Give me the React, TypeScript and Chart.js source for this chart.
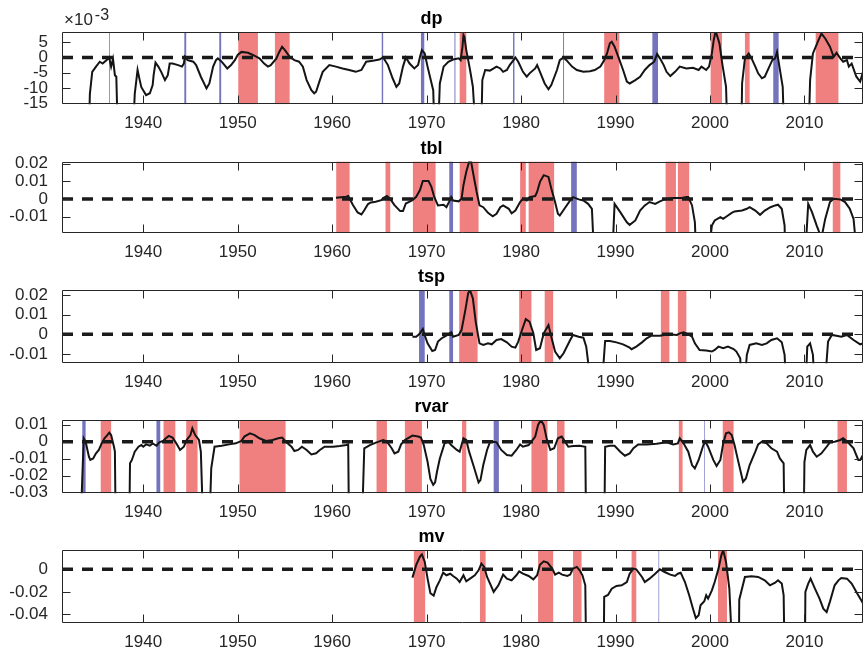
import React, { useEffect, useRef } from "react";
import { Chart, registerables } from "chart.js";

Chart.register(...registerables);

// ---------- shared axis data ----------
const X_MIN = 1931.4;
const X_MAX = 2016.2;
const xTickYears = [1940, 1950, 1960, 1970, 1980, 1990, 2000, 2010];

type Pt = [number, number];
type Band = [number, number];

// ---------- dp (values in units of 1e-3) ----------
const dpSeries: Pt[] = [
  [1934.2, -30], [1934.35, -12], [1934.6, -4.7], [1935.0, -3.0], [1935.4, -1.4], [1935.7, -2], [1936.1, -0.9], [1936.4, 0], [1936.6, -3], [1936.8, -0.5], [1937.0, -5.8], [1937.15, -6.3], [1937.35, -30],
  [1938.85, -30], [1939.1, -12], [1939.4, -4.1], [1939.6, -7], [1939.8, -9.7], [1940.3, -12.3], [1940.7, -11.7], [1941.0, -9], [1941.1, -5.8], [1941.3, -1.7], [1941.6, -3], [1941.9, -4.7], [1942.3, -7.4], [1942.6, -5.8], [1942.8, -2], [1943.1, -2], [1943.7, -2.5], [1944.1, -3], [1944.3, -2], [1944.4, 0.2], [1944.7, -0.9], [1945.3, -1.4], [1945.6, -2.5], [1946.1, -6.3], [1946.7, -10.1], [1947.0, -8.5], [1947.4, -3], [1947.7, -0.9], [1947.9, -0.3], [1948.3, -1.4], [1948.9, -3.6], [1949.3, -2.5], [1949.7, -0.9], [1950.0, 0.8], [1950.4, 1.8], [1951.1, 1.5], [1951.6, 0.8], [1952.3, -0.3], [1952.8, -2], [1953.2, -3], [1953.5, -2.5], [1954.1, -0.3], [1954.4, 1.8], [1954.7, 3.5], [1955.0, 2.4], [1955.5, 0.2], [1956.0, -0.9], [1956.5, -1.4], [1956.9, -3], [1957.3, -7.4], [1957.8, -10.7], [1958.1, -11.7], [1958.3, -11.2], [1958.7, -7.4], [1959.0, -4.7], [1959.7, -2.5], [1960.4, -3], [1961.1, -3.6], [1961.8, -4.1], [1962.5, -4.7], [1963.1, -4.1], [1963.6, -1.4], [1964.3, -1.1], [1965.0, -0.7], [1965.4, 0], [1965.9, -2.5], [1966.4, -6.8], [1966.8, -9.6], [1967.1, -8.5], [1967.5, -3], [1967.8, 0], [1968.2, -2], [1968.7, -3.6], [1969.1, -2.5], [1969.3, 0.2], [1969.5, 2.4], [1969.8, 1.3], [1970.1, -3], [1970.7, -10.7], [1970.9, -30],
  [1971.15, -30], [1971.4, -8.5], [1971.8, -3], [1972.3, -1.4], [1972.8, -0.7], [1973.4, -0.3], [1973.6, -0.9], [1973.8, 3.5], [1973.9, 7.3], [1974.0, 6.7], [1974.2, 2.4], [1974.6, -4.1], [1974.9, -9.6], [1975.3, -30],
  [1975.75, -30], [1975.9, -7.4], [1976.2, -4.1], [1976.7, -4.3], [1977.1, -3.6], [1977.4, -3.0], [1977.8, -3.6], [1978.1, -4.7], [1978.5, -4.1], [1978.8, -2.5], [1979.2, -0.9], [1979.4, 0], [1979.7, -1.4], [1980.2, -4.7], [1980.6, -6.3], [1980.9, -5.2], [1981.5, -3.6], [1981.7, -2.5], [1982.0, -4.7], [1982.5, -8.5], [1982.9, -10.4], [1983.2, -9], [1983.8, -4.1], [1984.1, -0.9], [1984.5, 0], [1984.8, -0.9], [1985.4, -3], [1985.9, -4.1], [1986.6, -4.7], [1987.3, -4.5], [1987.8, -4.1], [1988.4, -3], [1988.8, -0.9], [1989.1, 1.3], [1989.4, 4.6], [1989.6, 5.1], [1989.9, 3.5], [1990.3, 0.2], [1990.8, -4.1], [1991.2, -7.9], [1991.5, -8.5], [1992.1, -7.4], [1992.6, -6.3], [1993.1, -4.1], [1993.6, -2.5], [1994.1, -1.4], [1994.4, 1.1], [1994.7, -0.3], [1995.1, -2.5], [1995.4, -4.7], [1995.8, -6.1], [1996.3, -4.7], [1996.8, -3], [1997.5, -3.6], [1998.2, -3.4], [1998.8, -4.1], [1999.1, -3], [1999.6, -4.1], [1999.9, -3], [2000.2, 1.3], [2000.4, 5.7], [2000.6, 8.6], [2001.0, 4.6], [2001.3, -2], [2001.7, -9.6], [2001.9, -30],
  [2003.3, -30], [2003.4, -8.5], [2003.7, -0.3], [2004.1, 1.3], [2004.4, -0.3], [2004.8, -3], [2005.1, -5.2], [2005.5, -6.8], [2005.8, -6.3], [2006.2, -3.6], [2006.6, -0.9], [2006.9, -0.3], [2007.1, 1.8], [2007.3, -2], [2007.7, -9.6], [2007.9, -30],
  [2010.4, -30], [2010.6, -7.4], [2010.9, 1.3], [2011.5, 5.7], [2011.8, 7.8], [2012.2, 6.2], [2012.7, 3.5], [2013.1, 0.2], [2013.4, 1.5], [2013.8, -0.3], [2014.1, -1.4], [2014.5, -0.9], [2014.7, -3], [2015.0, -2], [2015.5, -6.3], [2015.9, -7.9], [2016.2, -4.7],
];
const dpRed: Band[] = [[1950.06, 1952.14], [1953.94, 1955.5], [1973.5, 1974.2], [1988.8, 1990.4], [2000.07, 2001.27], [2003.7, 2004.2], [2011.19, 2013.6]];
const dpBlue: Band[] = [[1936.4, 1936.48], [1944.35, 1944.55], [1948.05, 1948.25], [1965.25, 1965.4], [1969.4, 1969.75], [1972.95, 1973.05], [1979.15, 1979.3], [1984.45, 1984.55], [1993.9, 1994.5], [2006.7, 2007.27]];
const dpTicks = [-15, -10, -5, 0, 5];

// ---------- tbl ----------
const tblSeries: Pt[] = [
  [1960.4, 0.0008], [1961.5, 0.0013], [1961.7, 0.0017], [1962.2, -0.0034], [1962.7, -0.0076], [1963.1, -0.0087], [1963.4, -0.0063], [1963.8, -0.0028], [1964.1, -0.0019], [1964.6, -0.0015], [1965.2, -0.0006], [1965.5, 0.0008], [1965.8, 0.0017], [1966.1, 0.0004], [1966.6, -0.0034], [1967.2, -0.0068], [1967.5, -0.0068], [1967.8, -0.0025], [1968.2, -0.0015], [1968.5, -0.0006], [1968.9, 0.0013], [1969.3, 0.0051], [1969.6, 0.0102], [1970.2, 0.0102], [1970.5, 0.007], [1970.8, 0.0013], [1971.2, -0.0036], [1971.8, -0.0032], [1972.1, -0.0046], [1972.4, -0.0013], [1972.6, 0.0011], [1972.8, -0.0008], [1973.4, -0.0013], [1973.7, 0.0002], [1973.9, 0.0078], [1974.2, 0.0154], [1974.5, 0.021], [1974.7, 0.0214], [1974.9, 0.0154], [1975.3, 0.004], [1975.6, -0.0036], [1976.0, -0.0046], [1976.5, -0.0078], [1977.0, -0.0097], [1977.4, -0.0083], [1977.8, -0.0046], [1978.1, -0.0036], [1978.7, -0.0055], [1979.0, -0.008], [1979.4, -0.0065], [1979.9, -0.0017], [1980.2, 0.0002], [1980.6, -0.0008], [1980.9, 0.0011], [1981.5, 0.0017], [1981.7, 0.004], [1982.0, 0.0097], [1982.4, 0.0135], [1982.9, 0.0125], [1983.2, 0.0059], [1983.6, -0.0017], [1983.9, -0.0083], [1984.1, -0.0093], [1984.7, -0.0046], [1985.2, -0.0008], [1985.5, 0.0011], [1986.1, -0.0002], [1986.6, -0.0008], [1987.1, -0.0027], [1987.5, -0.0055], [1987.8, -0.04],
  [1989.6, -0.04], [1989.9, -0.0027], [1990.5, -0.0074], [1991.2, -0.0131], [1991.5, -0.0146], [1992.1, -0.0121], [1992.6, -0.0065], [1993.1, -0.0036], [1993.6, -0.0017], [1994.2, -0.0027], [1994.7, -0.0013], [1995.2, -0.0002], [1996.1, 0.0006], [1997.0, 0.0006], [1997.5, 0.0011], [1997.7, 0.0011], [1998.1, -0.0036], [1998.4, -0.013], [1998.6, -0.04],
  [1999.7, -0.04], [2000.2, -0.015], [2000.5, -0.0121], [2001.1, -0.0102], [2001.4, -0.0112], [2001.9, -0.0093], [2002.3, -0.0078], [2002.6, -0.007], [2003.4, -0.0065], [2003.9, -0.0055], [2004.2, -0.0046], [2004.8, -0.0065], [2005.3, -0.0089], [2005.8, -0.0065], [2006.4, -0.0046], [2006.9, -0.0036], [2007.2, -0.0032], [2007.6, -0.0055], [2007.9, -0.015], [2008.0, -0.04],
  [2010.0, -0.04], [2010.4, -0.0027], [2010.8, -0.0074], [2011.3, -0.015], [2011.8, -0.022], [2012.2, -0.0112], [2012.7, -0.0017], [2013.1, 0.0002], [2013.8, -0.0002], [2014.3, -0.0017], [2014.8, -0.0055], [2015.2, -0.0112], [2015.7, -0.04], [2016.3, -0.04],
];
const tblRed: Band[] = [[1960.43, 1961.85], [1965.65, 1966.15], [1968.55, 1970.95], [1973.5, 1975.5], [1979.9, 1980.5], [1980.8, 1983.5], [1995.3, 1996.4], [1996.6, 1997.8], [2013.0, 2013.8]];
const tblBlue: Band[] = [[1972.4, 1972.8], [1985.3, 1985.9]];
const tblTicks = [-0.01, 0, 0.01, 0.02];

// ---------- tsp ----------
const tspSeries: Pt[] = [
  [1968.5, -0.0012], [1968.9, -0.0012], [1969.2, 0], [1969.6, 0.0027], [1969.8, -0.0005], [1970.1, -0.0046], [1970.6, -0.0085], [1970.9, -0.008], [1971.2, -0.0037], [1971.6, -0.002], [1971.9, -0.0012], [1972.3, 0], [1972.6, 0.001], [1972.8, -0.0012], [1973.4, -0.0003], [1973.7, 0.0022], [1974.1, 0.0124], [1974.4, 0.021], [1974.6, 0.0225], [1974.9, 0.0183], [1975.2, 0.0064], [1975.6, -0.0046], [1976.0, -0.0054], [1976.5, -0.0046], [1976.9, -0.0051], [1977.4, -0.0029], [1977.9, -0.0024], [1978.5, -0.0041], [1979.0, -0.0063], [1979.4, -0.0068], [1979.7, -0.0037], [1980.1, 0.0022], [1980.5, 0.0078], [1980.9, 0.0064], [1981.3, 0.0005], [1981.6, -0.008], [1982.0, -0.0071], [1982.4, 0.0005], [1982.9, 0.0047], [1983.2, -0.0012], [1983.6, -0.0088], [1984.1, -0.0122], [1984.5, -0.0097], [1985.2, -0.0029], [1985.5, -0.0003], [1986.1, -0.0012], [1986.6, -0.0017], [1986.9, -0.0063], [1987.5, -0.03],
  [1988.5, -0.03], [1988.9, -0.0034], [1989.4, -0.0034], [1990.1, -0.0041], [1990.8, -0.0051], [1991.5, -0.0068], [1991.7, -0.0076], [1992.2, -0.0063], [1992.8, -0.0041], [1993.3, -0.002], [1993.8, -0.0007], [1994.7, -0.0007], [1995.6, 0], [1996.5, -0.0003], [1996.8, 0.0005], [1997.2, 0.001], [1997.7, 0], [1998.1, -0.0012], [1998.4, -0.0046], [1998.9, -0.008], [1999.6, -0.0083], [2000.2, -0.0088], [2000.5, -0.008], [2000.9, -0.0063], [2001.4, -0.0071], [2001.9, -0.0063], [2002.5, -0.0075], [2002.8, -0.0088], [2003.2, -0.0122], [2003.4, -0.03],
  [2003.6, -0.03], [2003.9, -0.0105], [2004.2, -0.0054], [2004.9, -0.0046], [2005.5, -0.0054], [2006.0, -0.0046], [2006.5, -0.0029], [2007.1, -0.002], [2007.6, -0.0041], [2007.9, -0.0105], [2008.1, -0.03],
  [2010.1, -0.03], [2010.3, -0.0063], [2010.6, -0.0046], [2010.9, -0.0105], [2011.1, -0.03],
  [2012.1, -0.03], [2012.5, -0.0037], [2012.9, -0.0003], [2013.4, -0.0007], [2013.9, -0.0012], [2014.5, -0.0003], [2015.2, -0.0029], [2015.9, -0.0051], [2016.2, -0.0046],
];
const tspRed: Band[] = [[1973.45, 1975.4], [1979.8, 1981.1], [1982.5, 1983.4], [1994.8, 1995.7], [1996.6, 1997.5]];
const tspBlue: Band[] = [[1969.2, 1969.8], [1972.4, 1972.8]];
const tspTicks = [-0.01, 0, 0.01, 0.02];

// ---------- rvar ----------
const rvarSeries: Pt[] = [
  [1933.3, -0.06], [1933.7, 0.002], [1933.9, 0], [1934.25, -0.0089], [1934.4, -0.0108], [1934.7, -0.0099], [1935.0, -0.0069], [1935.3, -0.0049], [1935.6, -0.001], [1935.9, 0.002], [1936.2, 0.0039], [1936.4, 0.0053], [1936.6, 0.0039], [1936.9, -0.003], [1937.0, -0.0059], [1937.1, -0.06],
  [1938.5, -0.06], [1938.6, -0.0128], [1938.8, -0.0108], [1939.1, -0.0059], [1939.5, -0.003], [1939.8, -0.002], [1940.0, -0.003], [1940.3, -0.0016], [1940.7, -0.0024], [1941.0, -0.001], [1941.4, -0.0024], [1941.7, -0.0004], [1942.1, 0.0004], [1942.4, 0.002], [1942.7, 0.0034], [1943.1, 0.0024], [1943.5, -0.001], [1943.9, -0.0049], [1944.3, -0.003], [1944.6, 0.001], [1945.0, 0.0039], [1945.2, 0.0079], [1945.5, 0.0039], [1945.9, 0.001], [1946.1, -0.0059], [1946.4, -0.06],
  [1946.95, -0.06], [1947.2, -0.0158], [1947.55, -0.003], [1948.3, -0.0024], [1949.1, -0.0016], [1949.8, -0.001], [1950.4, 0.0004], [1950.7, 0.003], [1951.3, 0.0049], [1951.8, 0.0039], [1952.3, 0.002], [1953.0, 0.0004], [1953.7, 0.001], [1954.3, 0.002], [1954.7, 0.0024], [1955.1, 0], [1955.7, -0.003], [1956.0, -0.0055], [1956.4, -0.0049], [1956.8, -0.003], [1957.3, -0.0049], [1957.8, -0.0075], [1958.3, -0.0069], [1958.7, -0.0049], [1959.2, -0.003], [1960.1, -0.003], [1960.8, -0.0026], [1961.5, -0.002], [1961.7, -0.0016], [1961.8, -0.06],
  [1963.1, -0.06], [1963.4, -0.0039], [1964.0, -0.002], [1964.7, -0.0004], [1965.4, 0.001], [1965.8, 0], [1966.3, -0.0039], [1966.6, -0.0069], [1967.0, -0.0059], [1967.3, -0.0016], [1967.7, 0.001], [1968.0, 0.002], [1968.5, 0.0036], [1969.1, 0.003], [1969.4, 0.0024], [1969.7, -0.002], [1970.1, -0.0118], [1970.4, -0.022], [1970.7, -0.0255], [1970.9, -0.024], [1971.1, -0.0178], [1971.4, -0.0099], [1971.9, -0.001], [1972.3, 0], [1972.6, -0.002], [1973.2, -0.0049], [1973.5, -0.0059], [1973.9, 0.002], [1974.2, 0.001], [1974.5, -0.0059], [1975.0, -0.0148], [1975.5, -0.0241], [1975.7, -0.0227], [1976.0, -0.0138], [1976.4, -0.0049], [1976.7, -0.0004], [1977.1, 0], [1977.4, -0.0004], [1977.9, -0.0049], [1978.5, -0.0079], [1979.0, -0.0083], [1979.5, -0.0049], [1979.9, -0.0016], [1980.2, -0.003], [1980.8, -0.002], [1981.1, 0], [1981.5, 0.003], [1981.8, 0.0099], [1982.1, 0.0128], [1982.4, 0.0099], [1982.7, 0.002], [1983.1, -0.0049], [1983.5, -0.0039], [1983.9, 0.002], [1984.3, 0.003], [1984.65, 0], [1985.0, -0.003], [1985.5, -0.0026], [1986.2, -0.0024], [1986.8, -0.003], [1986.9, -0.06],
  [1988.8, -0.06], [1988.9, -0.003], [1989.4, -0.0024], [1989.9, -0.0024], [1990.5, -0.0059], [1991.0, -0.0083], [1991.5, -0.0069], [1991.9, -0.0039], [1992.4, -0.0016], [1993.3, -0.0016], [1994.35, -0.0012], [1995.4, -0.0004], [1996.1, -0.0016], [1996.6, -0.001], [1996.8, 0.002], [1997.2, -0.001], [1997.7, -0.0059], [1998.1, -0.0138], [1998.4, -0.0158], [1998.8, -0.0108], [1999.3, -0.002], [1999.5, 0], [1999.8, -0.003], [2000.35, -0.0108], [2000.7, -0.0144], [2001.1, -0.0108], [2001.4, -0.001], [2001.7, 0.0049], [2002.0, 0.0055], [2002.3, 0.0039], [2002.6, -0.002], [2003.0, -0.0118], [2003.5, -0.0237], [2003.8, -0.0217], [2004.2, -0.0138], [2004.8, -0.0059], [2005.1, -0.0016], [2005.5, 0], [2006.0, -0.001], [2006.5, -0.0039], [2007.1, -0.0059], [2007.4, -0.0099], [2007.8, -0.0128], [2007.9, -0.06],
  [2009.9, -0.06], [2010.0, -0.012], [2010.2, -0.0049], [2010.6, -0.002], [2010.9, -0.0059], [2011.3, -0.0089], [2011.8, -0.0069], [2012.35, -0.003], [2012.7, -0.0004], [2013.2, 0], [2013.8, 0.001], [2014.1, 0.002], [2014.6, -0.0004], [2015.2, -0.0039], [2015.7, -0.0108], [2015.9, -0.0108], [2016.2, -0.0079],
];
const rvarRed: Band[] = [[1935.5, 1936.6], [1942.15, 1943.4], [1944.55, 1945.75], [1950.2, 1955.07], [1964.7, 1965.8], [1967.7, 1969.5], [1973.75, 1974.2], [1981.1, 1982.8], [1983.8, 1984.6], [1996.7, 1997.1], [2001.35, 2002.5], [2013.5, 2014.5]];
const rvarBlue: Band[] = [[1933.55, 1933.9], [1941.4, 1941.8], [1977.1, 1977.65], [1999.38, 1999.45]];
const rvarTicks = [-0.03, -0.02, -0.01, 0, 0.01];

// ---------- mv ----------
const mvSeries: Pt[] = [
  [1968.5, -0.0074], [1968.9, 0.0039], [1969.3, 0.0113], [1969.5, 0.0133], [1969.8, 0.0068], [1970.1, -0.008], [1970.4, -0.0213], [1970.75, -0.0234], [1971.05, -0.0157], [1971.4, -0.0098], [1971.75, -0.003], [1972.1, -0.0053], [1972.5, -0.0039], [1972.8, -0.0059], [1973.2, -0.0083], [1973.5, -0.0113], [1973.9, -0.0053], [1974.2, -0.0107], [1974.6, -0.0083], [1975.1, -0.0053], [1975.5, -0.0009], [1975.8, 0.005], [1976.1, 0.0021], [1976.4, -0.0068], [1976.8, -0.0142], [1977.1, -0.0201], [1977.6, -0.0142], [1978.1, -0.0047], [1978.5, -0.0083], [1979.0, -0.0098], [1979.5, -0.0053], [1979.8, -0.0018], [1980.2, -0.0039], [1980.8, -0.0059], [1981.3, -0.0089], [1981.7, -0.0053], [1982.0, 0.0041], [1982.4, 0.0071], [1982.8, 0.0059], [1983.3, 0.0006], [1983.6, -0.0047], [1984.0, -0.003], [1984.35, -0.0047], [1984.9, -0.0059], [1985.2, -0.0047], [1985.5, 0.0006], [1985.9, 0.0021], [1986.2, -0.0009], [1986.5, -0.0053], [1986.8, -0.0142], [1986.9, -0.08],
  [1988.75, -0.08], [1988.8, -0.0245], [1989.2, -0.0228], [1989.6, -0.0172], [1990.1, -0.0148], [1990.65, -0.0142], [1991.2, -0.0113], [1991.5, -0.0039], [1991.9, 0.0006], [1992.2, 0], [1992.8, -0.0068], [1993.1, -0.0113], [1993.6, -0.0083], [1994.2, -0.0039], [1994.7, 0], [1995.2, -0.0024], [1995.8, -0.0047], [1996.3, -0.0059], [1996.6, -0.0039], [1996.9, -0.003], [1997.35, -0.0113], [1997.8, -0.0231], [1998.2, -0.035], [1998.5, -0.0433], [1998.8, -0.0409], [1999.0, -0.032], [1999.4, -0.0284], [1999.6, -0.0231], [1999.8, -0.026], [2000.2, -0.0187], [2000.5, -0.0113], [2000.9, 0.0006], [2001.2, 0.0124], [2001.4, 0.017], [2001.7, 0.0065], [2002.05, -0.0172], [2002.4, -0.08],
  [2003.05, -0.08], [2003.1, -0.027], [2003.7, -0.0068], [2004.4, -0.0062], [2005.1, -0.0068], [2005.8, -0.0098], [2006.35, -0.0142], [2006.9, -0.0119], [2007.2, -0.0098], [2007.6, -0.0127], [2007.8, -0.0231], [2007.9, -0.08],
  [2010.05, -0.08], [2010.1, -0.02], [2010.4, -0.0127], [2010.65, -0.0083], [2011.1, -0.0169], [2011.6, -0.026], [2012.0, -0.035], [2012.35, -0.038], [2012.7, -0.0287], [2013.2, -0.0142], [2013.6, -0.0098], [2013.9, -0.0077], [2014.5, -0.0083], [2015.0, -0.0127], [2015.5, -0.0201], [2015.9, -0.026], [2016.2, -0.0302],
];
const mvRed: Band[] = [[1968.65, 1969.85], [1975.65, 1976.25], [1981.8, 1983.4], [1985.5, 1986.4], [1991.7, 1992.2], [2000.85, 2001.8]];
const mvBlue: Band[] = [[1994.55, 1994.62]];
const mvTicks = [-0.04, -0.02, 0];

// ---------- panel specs ----------
interface PanelSpec {
  title: string;
  series: Pt[];
  red: Band[];
  blue: Band[];
  yMin: number;
  yMax: number;
  yTicks: number[];
  canvasTop: number;
  canvasHeight: number;
  plotTop: number;
  plotBottom: number;
  exponent?: string;
}

const panels: PanelSpec[] = [
  { title: "dp", series: dpSeries, red: dpRed, blue: dpBlue, yMin: -15.3, yMax: 8.3, yTicks: dpTicks, canvasTop: 0, canvasHeight: 130, plotTop: 32, plotBottom: 104.3, exponent: "-3" },
  { title: "tbl", series: tblSeries, red: tblRed, blue: tblBlue, yMin: -0.019, yMax: 0.0212, yTicks: tblTicks, canvasTop: 130, canvasHeight: 130, plotTop: 31.5, plotBottom: 102.7 },
  { title: "tsp", series: tspSeries, red: tspRed, blue: tspBlue, yMin: -0.0148, yMax: 0.0225, yTicks: tspTicks, canvasTop: 260, canvasHeight: 130, plotTop: 30.3, plotBottom: 103.3 },
  { title: "rvar", series: rvarSeries, red: rvarRed, blue: rvarBlue, yMin: -0.0305, yMax: 0.0128, yTicks: rvarTicks, canvasTop: 390, canvasHeight: 130, plotTop: 30, plotBottom: 103.3 },
  { title: "mv", series: mvSeries, red: mvRed, blue: mvBlue, yMin: -0.0477, yMax: 0.0169, yTicks: mvTicks, canvasTop: 520, canvasHeight: 132, plotTop: 30.3, plotBottom: 103 },
];

const FONT = "'Liberation Sans', Arial, Helvetica, sans-serif";
const AXIS_COLOR = "#262626";
const RED = "rgb(240,128,128)";
const BLUE = "rgb(115,115,190)";
const PLOT_LEFT = 62;
const PLOT_RIGHT = 863;
const TITLE_SIZE = 18;
const TICK_SIZE = 17;
const TICK_LEN = 8;

function fmt(v: number): string {
  const r = Number(v.toFixed(6));
  return String(r);
}

const bandsPlugin = {
  id: "bands",
  beforeDatasetsDraw(chart: any, _args: any, opts: any) {
    const { ctx, chartArea } = chart;
    const x = chart.scales.x;
    ctx.save();
    ctx.beginPath();
    ctx.rect(chartArea.left, chartArea.top, chartArea.right - chartArea.left, chartArea.bottom - chartArea.top);
    ctx.clip();
    const draw = (bands: Band[], color: string) => {
      ctx.fillStyle = color;
      for (const [s, e] of bands) {
        const x1 = x.getPixelForValue(s);
        const x2 = x.getPixelForValue(e);
        ctx.fillRect(x1, chartArea.top, x2 - x1, chartArea.bottom - chartArea.top);
      }
    };
    draw(opts.red || [], RED);
    draw(opts.blue || [], BLUE);
    ctx.restore();
  },
};

const framePlugin = {
  id: "frame",
  afterDatasetsDraw(chart: any, _args: any, opts: any) {
    const { ctx, chartArea } = chart;
    const xs = chart.scales.x;
    const ys = chart.scales.y;
    const l = Math.round(chartArea.left) + 0.5;
    const r = Math.round(chartArea.right) - 0.5;
    const t = Math.round(chartArea.top) + 0.5;
    const b = Math.round(chartArea.bottom) - 0.5;
    ctx.save();
    ctx.strokeStyle = AXIS_COLOR;
    ctx.lineWidth = 1;
    ctx.beginPath();
    ctx.rect(l, t, r - l, b - t);
    for (const tk of xs.ticks) {
      const px = Math.round(xs.getPixelForValue(tk.value)) + 0.5;
      ctx.moveTo(px, b);
      ctx.lineTo(px, b - TICK_LEN);
      ctx.moveTo(px, t);
      ctx.lineTo(px, t + TICK_LEN);
    }
    for (const tk of ys.ticks) {
      const py = Math.round(ys.getPixelForValue(tk.value)) + 0.5;
      ctx.moveTo(l, py);
      ctx.lineTo(l + TICK_LEN, py);
      ctx.moveTo(r, py);
      ctx.lineTo(r - TICK_LEN, py);
    }
    ctx.stroke();
    if (opts.exponent) {
      ctx.fillStyle = AXIS_COLOR;
      ctx.textAlign = "left";
      ctx.textBaseline = "alphabetic";
      ctx.font = `17px ${FONT}`;
      const base = "\u00d710";
      const x0 = chartArea.left + 2;
      ctx.fillText(base, x0, chartArea.top - 7);
      const w = ctx.measureText(base).width;
      ctx.font = `16px ${FONT}`;
      ctx.fillText(opts.exponent, x0 + w + 2, chartArea.top - 12);
    }
    ctx.restore();
  },
};

function Panel({ spec }: { spec: PanelSpec }) {
  const ref = useRef<HTMLCanvasElement | null>(null);
  useEffect(() => {
    const canvas = ref.current;
    if (!canvas) return;
    const titleLine = TITLE_SIZE * 1.2;
    const titleBottomPad = 2;
    const titleTopPad = spec.plotTop - titleLine - titleBottomPad;
    const chart = new Chart(canvas, {
      type: "line",
      data: {
        datasets: [
          {
            data: [{ x: X_MIN, y: 0 }, { x: X_MAX, y: 0 }],
            borderColor: "#1a1a1a",
            borderWidth: 3.5,
            borderDash: [11, 9],
            pointRadius: 0,
            clip: 0,
          },
          {
            data: spec.series.map(([x, y]) => ({ x, y })),
            borderColor: "#141414",
            borderWidth: 2,
            pointRadius: 0,
            tension: 0,
            clip: 0,
          },
        ],
      },
      options: {
        responsive: false,
        animation: false,
        devicePixelRatio: 1,
        events: [],
        layout: { padding: { left: 0, right: 865 - PLOT_RIGHT, top: 0, bottom: 0 } },
        plugins: {
          legend: { display: false },
          tooltip: { enabled: false },
          title: {
            display: true,
            text: spec.title,
            color: "#000",
            font: { family: FONT, size: TITLE_SIZE, weight: "bold" },
            padding: { top: titleTopPad, bottom: titleBottomPad },
          },
          bands: { red: spec.red, blue: spec.blue },
          frame: { exponent: spec.exponent },
        } as any,
        scales: {
          x: {
            type: "linear",
            min: X_MIN,
            max: X_MAX,
            grid: { display: false, drawTicks: false },
            border: { display: false },
            ticks: {
              color: AXIS_COLOR,
              font: { family: FONT, size: TICK_SIZE },
              padding: 9,
              autoSkip: false,
              maxRotation: 0,
              callback: (v: any) => String(v),
            },
            afterBuildTicks: (axis: any) => {
              axis.ticks = xTickYears.map((v) => ({ value: v }));
            },
            afterFit: (axis: any) => {
              axis.height = spec.canvasHeight - spec.plotBottom;
            },
          },
          y: {
            type: "linear",
            min: spec.yMin,
            max: spec.yMax,
            grid: { display: false, drawTicks: false },
            border: { display: false },
            ticks: {
              color: AXIS_COLOR,
              font: { family: FONT, size: TICK_SIZE },
              padding: 14,
              autoSkip: false,
              callback: (v: any) => fmt(Number(v)),
            },
            afterBuildTicks: (axis: any) => {
              axis.ticks = spec.yTicks.map((v) => ({ value: v }));
            },
            afterFit: (axis: any) => {
              axis.width = PLOT_LEFT;
            },
          },
        },
      } as any,
      plugins: [bandsPlugin, framePlugin],
    });
    return () => chart.destroy();
  }, [spec]);
  return (
    <canvas
      ref={ref}
      width={865}
      height={spec.canvasHeight}
      style={{ position: "absolute", left: 0, top: spec.canvasTop, width: 865, height: spec.canvasHeight }}
    />
  );
}

export default function App() {
  return (
    <div style={{ position: "absolute", left: 0, top: 0, width: 865, height: 652, background: "#fff", overflow: "hidden" }}>
      {panels.map((p) => (
        <Panel key={p.title} spec={p} />
      ))}
    </div>
  );
}
